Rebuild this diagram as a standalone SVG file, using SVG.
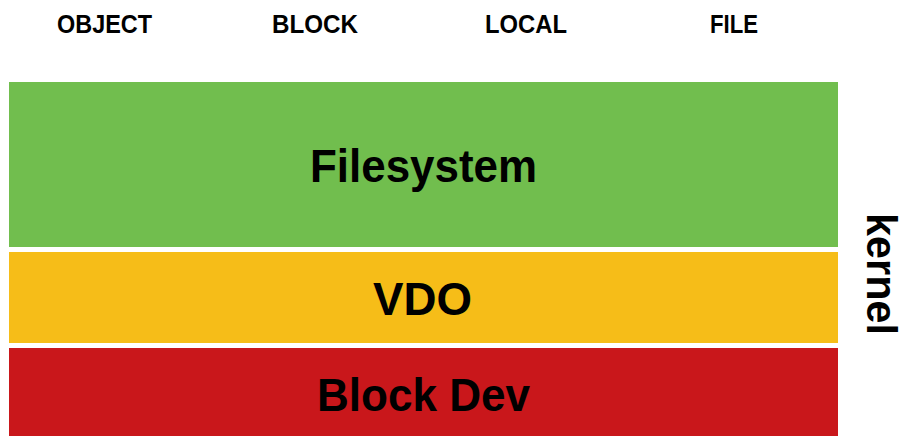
<svg xmlns="http://www.w3.org/2000/svg" width="907" height="436" viewBox="0 0 907 436">
<style>
text{font-family:"Liberation Sans",Arial,sans-serif;font-weight:bold;fill:#000}
.hdr{font-size:25px}
.big{font-size:47px;text-anchor:middle}
</style>
<rect width="907" height="436" fill="#fff"/>
<g id="headers">
<text class="hdr" x="57" y="33" textLength="95" lengthAdjust="spacingAndGlyphs">OBJECT</text>
<text class="hdr" x="272" y="33" textLength="86" lengthAdjust="spacingAndGlyphs">BLOCK</text>
<text class="hdr" x="485" y="33" textLength="82" lengthAdjust="spacingAndGlyphs">LOCAL</text>
<text class="hdr" x="710" y="33" textLength="48" lengthAdjust="spacingAndGlyphs">FILE</text>
</g>
<g id="filesystem">
<rect x="9" y="82" width="829" height="165" fill="#71BE4E"/>
<text class="big" x="423.5" y="182" textLength="227" lengthAdjust="spacingAndGlyphs">Filesystem</text>
</g>
<g id="vdo">
<rect x="9" y="252" width="829" height="91" fill="#F6BD18"/>
<text class="big" x="422.5" y="315" textLength="99" lengthAdjust="spacingAndGlyphs">VDO</text>
</g>
<g id="blockdev">
<rect x="9" y="348" width="829" height="88" fill="#C9171B"/>
<text class="big" x="423.5" y="411" textLength="213" lengthAdjust="spacingAndGlyphs">Block Dev</text>
</g>
<g id="kernel">
<text class="big" style="font-size:43px" transform="translate(867,274) rotate(90)" textLength="122" lengthAdjust="spacingAndGlyphs">kernel</text>
</g>
<g id="connectors"/>
</svg>
